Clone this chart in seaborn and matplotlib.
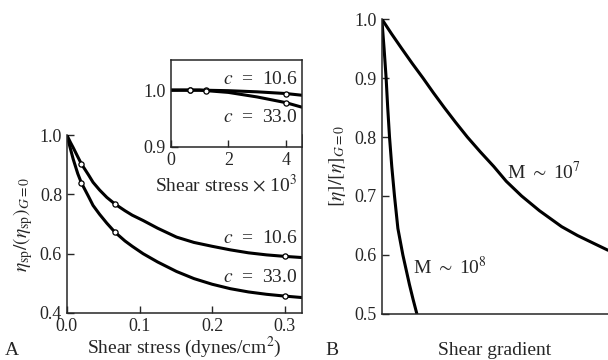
import numpy as np
import pandas as pd
import matplotlib
matplotlib.use('Agg')
import matplotlib.pyplot as plt
import seaborn as sns

# --- panel A, main plot: shear stress (dynes/cm^2) vs eta_sp ratio ---
stress_a = [0.0, 0.005, 0.0087, 0.015, 0.02, 0.03, 0.036, 0.045, 0.055, 0.066,
            0.08, 0.09, 0.105, 0.125, 0.151, 0.175, 0.20, 0.225, 0.25, 0.275,
            0.30, 0.324]
ratio_106 = [1.0, 0.975, 0.958, 0.927, 0.903, 0.865, 0.841, 0.815, 0.79, 0.768,
             0.745, 0.73, 0.712, 0.686, 0.656, 0.638, 0.625, 0.613, 0.603, 0.596,
             0.591, 0.587]
ratio_330 = [1.0, 0.953, 0.919, 0.87, 0.839, 0.792, 0.763, 0.733, 0.703, 0.673,
             0.643, 0.625, 0.60, 0.572, 0.54, 0.516, 0.497, 0.482, 0.471, 0.463,
             0.457, 0.452]
pts_x = [0.02, 0.066, 0.30]
pts_106 = [0.903, 0.768, 0.591]
pts_330 = [0.839, 0.673, 0.457]

# --- panel A, inset: shear stress x 10^3 ---
stress_in = [0.0, 1.0, 1.5, 2.0, 2.5, 3.0, 3.5, 4.0, 4.56]
inset_106 = [1.0, 1.0, 0.9995, 0.999, 0.998, 0.997, 0.9955, 0.994, 0.991]
inset_330 = [1.0, 1.0, 0.998, 0.996, 0.992, 0.988, 0.983, 0.978, 0.970]
inset_pts_x = [0.66, 1.24, 4.0]
inset_pts_106 = [1.0, 1.0, 0.994]
inset_pts_330 = [1.0, 0.999, 0.978]

# --- panel B: shear gradient (arbitrary) vs [eta] ratio ---
grad_m7 = [0.0, 0.043, 0.088, 0.134, 0.182, 0.228, 0.276, 0.326, 0.378, 0.435,
           0.495, 0.55, 0.618, 0.697, 0.795, 0.865, 0.935, 1.0]
eta_m7 = [1.0, 0.975, 0.95, 0.925, 0.90, 0.875, 0.85, 0.825, 0.80, 0.775,
          0.75, 0.725, 0.70, 0.675, 0.648, 0.633, 0.62, 0.608]
grad_m8 = [0.0, 0.005, 0.010, 0.019, 0.026, 0.034, 0.044, 0.056, 0.071, 0.093,
           0.122, 0.138, 0.155]
eta_m8 = [1.0, 0.975, 0.95, 0.90, 0.85, 0.80, 0.75, 0.70, 0.645, 0.60,
          0.55, 0.525, 0.50]

sns.set_theme(style='ticks')
plt.rcParams['font.family'] = ['Liberation Serif', 'DejaVu Serif']
plt.rcParams['mathtext.fontset'] = 'stix'
plt.rcParams['axes.linewidth'] = 1.1
plt.rcParams['xtick.direction'] = 'in'
plt.rcParams['ytick.direction'] = 'in'
plt.rcParams['xtick.major.width'] = 1.0
plt.rcParams['ytick.major.width'] = 1.0
plt.rcParams['xtick.major.size'] = 5
plt.rcParams['ytick.major.size'] = 5
plt.rcParams['lines.solid_joinstyle'] = 'round'

FS = 13
LW = 2.2
fig = plt.figure(figsize=(6.08, 3.6), dpi=100)

# main A
ax = fig.add_axes([0.110, 0.1306, 0.387, 0.494])
df_a = pd.DataFrame({'x': stress_a * 2,
                     'y': ratio_106 + ratio_330,
                     'c': ['10.6'] * len(stress_a) + ['33.0'] * len(stress_a)})
sns.lineplot(data=df_a, x='x', y='y', units='c', estimator=None,
             color='black', lw=LW, ax=ax, legend=False)
df_pa = pd.DataFrame({'x': pts_x * 2, 'y': pts_106 + pts_330})
sns.scatterplot(data=df_pa, x='x', y='y', s=14, facecolor='white',
                edgecolor='black', linewidth=0.9, ax=ax, zorder=5)
ax.set_xlim(0, 0.324)
ax.set_ylim(0.4, 1.0)
ax.set_xticks([0.0, 0.1, 0.2, 0.3])
ax.set_xticklabels(['0.0', '0.1', '0.2', '0.3'])
ax.set_yticks([0.4, 0.6, 0.8, 1.0])
ax.set_yticklabels(['0.4', '0.6', '0.8', '1.0'])
ax.tick_params(labelsize=FS)
ax.spines['top'].set_visible(False)
ax.set_xlabel(r'Shear stress (dynes/cm$^2$)', fontsize=FS + 1, labelpad=0)
ax.set_ylabel(r'$\eta_{\mathrm{sp}}/(\eta_{\mathrm{sp}})_{G=0}$', fontsize=FS + 1, labelpad=3)
ax.text(0.318, 0.652, r'$c$  =  10.6', ha='right', va='center', fontsize=FS + 1)
ax.text(0.318, 0.521, r'$c$  =  33.0', ha='right', va='center', fontsize=FS + 1)

# inset
axi = fig.add_axes([0.281, 0.5917, 0.2155, 0.2417])
axi.set_facecolor('white')
df_i = pd.DataFrame({'x': stress_in * 2,
                     'y': inset_106 + inset_330,
                     'c': ['10.6'] * len(stress_in) + ['33.0'] * len(stress_in)})
sns.lineplot(data=df_i, x='x', y='y', units='c', estimator=None,
             color='black', lw=LW, ax=axi, legend=False)
df_pi = pd.DataFrame({'x': inset_pts_x * 2, 'y': inset_pts_106 + inset_pts_330})
sns.scatterplot(data=df_pi, x='x', y='y', s=14, facecolor='white',
                edgecolor='black', linewidth=0.9, ax=axi, zorder=5)
axi.set_xlim(0, 4.56)
axi.set_ylim(0.9, 1.053)
axi.set_xticks([0, 2, 4])
axi.set_yticks([0.9, 1.0])
axi.set_yticklabels(['0.9', '1.0'])
axi.tick_params(labelsize=FS)
axi.set_xlabel(r'Shear stress $\times$ 10$^3$', fontsize=FS + 1)
axi.xaxis.set_label_coords(0.42, -0.30, transform=axi.transAxes)
axi.xaxis.label.set_va('top')
axi.set_ylabel('')
axi.text(4.4, 1.0185, r'$c$  =  10.6', ha='right', va='center', fontsize=FS + 1)
axi.text(4.4, 0.951, r'$c$  =  33.0', ha='right', va='center', fontsize=FS + 1)

# panel B
axb = fig.add_axes([0.628, 0.128, 0.372, 0.819])
df_b = pd.DataFrame({'x': grad_m7 + grad_m8,
                     'y': eta_m7 + eta_m8,
                     'M': ['1e7'] * len(grad_m7) + ['1e8'] * len(grad_m8)})
sns.lineplot(data=df_b, x='x', y='y', units='M', estimator=None, sort=False,
             color='black', lw=LW, ax=axb, legend=False)
axb.set_xlim(0, 1.0)
axb.set_ylim(0.5, 1.0)
axb.set_xticks([])
axb.set_yticks([0.5, 0.6, 0.7, 0.8, 0.9, 1.0])
axb.set_yticklabels(['0.5', '0.6', '0.7', '0.8', '0.9', '1.0'])
axb.tick_params(labelsize=FS)
axb.spines['top'].set_visible(False)
axb.spines['right'].set_visible(False)
axb.set_xlabel('Shear gradient', fontsize=FS + 1, labelpad=20)
axb.set_ylabel(r'$[\eta]/[\eta]_{G=0}$', fontsize=FS + 1, labelpad=5)
axb.text(0.555, 0.74, r'M $\sim$ 10$^7$', ha='left', va='center', fontsize=FS + 1)
axb.text(0.14, 0.58, r'M $\sim$ 10$^8$', ha='left', va='center', fontsize=FS + 1)

fig.text(0.008, 0.015, 'A', fontsize=FS + 1)
fig.text(0.535, 0.015, 'B', fontsize=FS + 1)

fig.savefig('out.png', dpi=100)
